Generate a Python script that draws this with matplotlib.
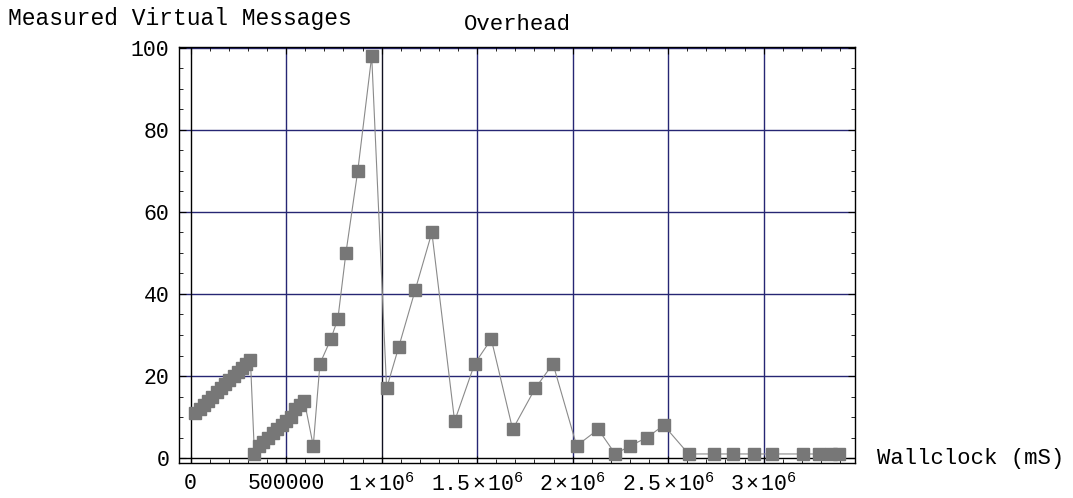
import matplotlib
matplotlib.use('Agg')
import matplotlib.pyplot as plt
from matplotlib.ticker import MultipleLocator

plt.rcParams['font.family'] = ['Liberation Mono', 'DejaVu Sans']
plt.rcParams['mathtext.fontset'] = 'custom'
plt.rcParams['mathtext.rm'] = 'Liberation Mono'
plt.rcParams['mathtext.it'] = 'Liberation Mono'
plt.rcParams['mathtext.bf'] = 'Liberation Mono'

# wallclock (mS) vs measured virtual messages
wallclock = [25000, 47000, 69000, 91500, 113500, 136000, 158000, 180000, 202500, 224500,
             247000, 269000, 291000, 313000,
             334000, 358000, 381000, 405000, 429000, 452000, 476000, 500000, 523000, 547000,
             571000, 595000,
             642000, 677000, 734000, 771000, 813000, 875000, 948000,
             1026000, 1089000, 1176000, 1263000, 1382000, 1487000, 1574000, 1686000,
             1804000, 1897000, 2021000, 2134000, 2223000, 2302000, 2389000, 2477000,
             2607000, 2738000, 2838000, 2950000, 3044000, 3204000, 3291000, 3353000, 3396000]
messages = [11, 12, 13, 14, 15, 16, 17, 18, 19, 20,
            21, 22, 23, 24,
            1, 3, 4, 5, 6, 7, 8, 9, 10, 12,
            13, 14,
            3, 23, 29, 34, 50, 70, 98,
            17, 27, 41, 55, 9, 23, 29, 7,
            17, 23, 3, 7, 1, 3, 5, 8,
            1, 1, 1, 1, 1, 1, 1, 1, 1]

x_ticks = [0, 500000, 1000000, 1500000, 2000000, 2500000, 3000000]
x_labels = ['0', '500000', r'$1\times10^{6}$', r'$1.5\times10^{6}$', r'$2\times10^{6}$',
            r'$2.5\times10^{6}$', r'$3\times10^{6}$']
y_ticks = [0, 20, 40, 60, 80, 100]

grid_col = '#262673'

fig = plt.figure(figsize=(10.73, 4.98), dpi=100)
ax = fig.add_axes([0.1668, 0.0703, 0.630, 0.8353])

for xv in x_ticks[1:]:
    ax.axvline(xv, color=grid_col if xv != 1000000 else '#101020', lw=1.0, zorder=1)
for yv in y_ticks[1:]:
    ax.axhline(yv, color=grid_col, lw=1.0, zorder=1)
ax.axvline(0, color='black', lw=1.0, zorder=1)
ax.axhline(0, color='black', lw=1.0, zorder=1)

ax.plot(wallclock, messages, color='#8a8a8a', lw=0.8, zorder=2)
ax.plot(wallclock, messages, 's', color='#777777', ms=8, mec='#777777', zorder=3)

ax.set_xlim(-61000, 3478000)
ax.set_ylim(-1.2, 100.2)
ax.set_xticks(x_ticks)
ax.set_xticklabels(x_labels)
ax.set_yticks(y_ticks)
ax.xaxis.set_minor_locator(MultipleLocator(100000))
ax.yaxis.set_minor_locator(MultipleLocator(5))
ax.tick_params(which='both', direction='in', top=True, right=True, labelsize=15.5, pad=7)
ax.tick_params(which='major', length=5)
ax.tick_params(which='minor', length=3)
for s in ax.spines.values():
    s.set_linewidth(1.0)

fig.text(8 / 1073, 1 - 18 / 498, 'Measured Virtual Messages', fontsize=16.5, va='center', ha='left')
fig.text(517 / 1073, 1 - 25 / 498, 'Overhead', fontsize=16, va='center', ha='center')
fig.text(877 / 1073, 1 - 458 / 498, 'Wallclock (mS)', fontsize=16, va='center', ha='left')

fig.savefig('out.png', dpi=100)
